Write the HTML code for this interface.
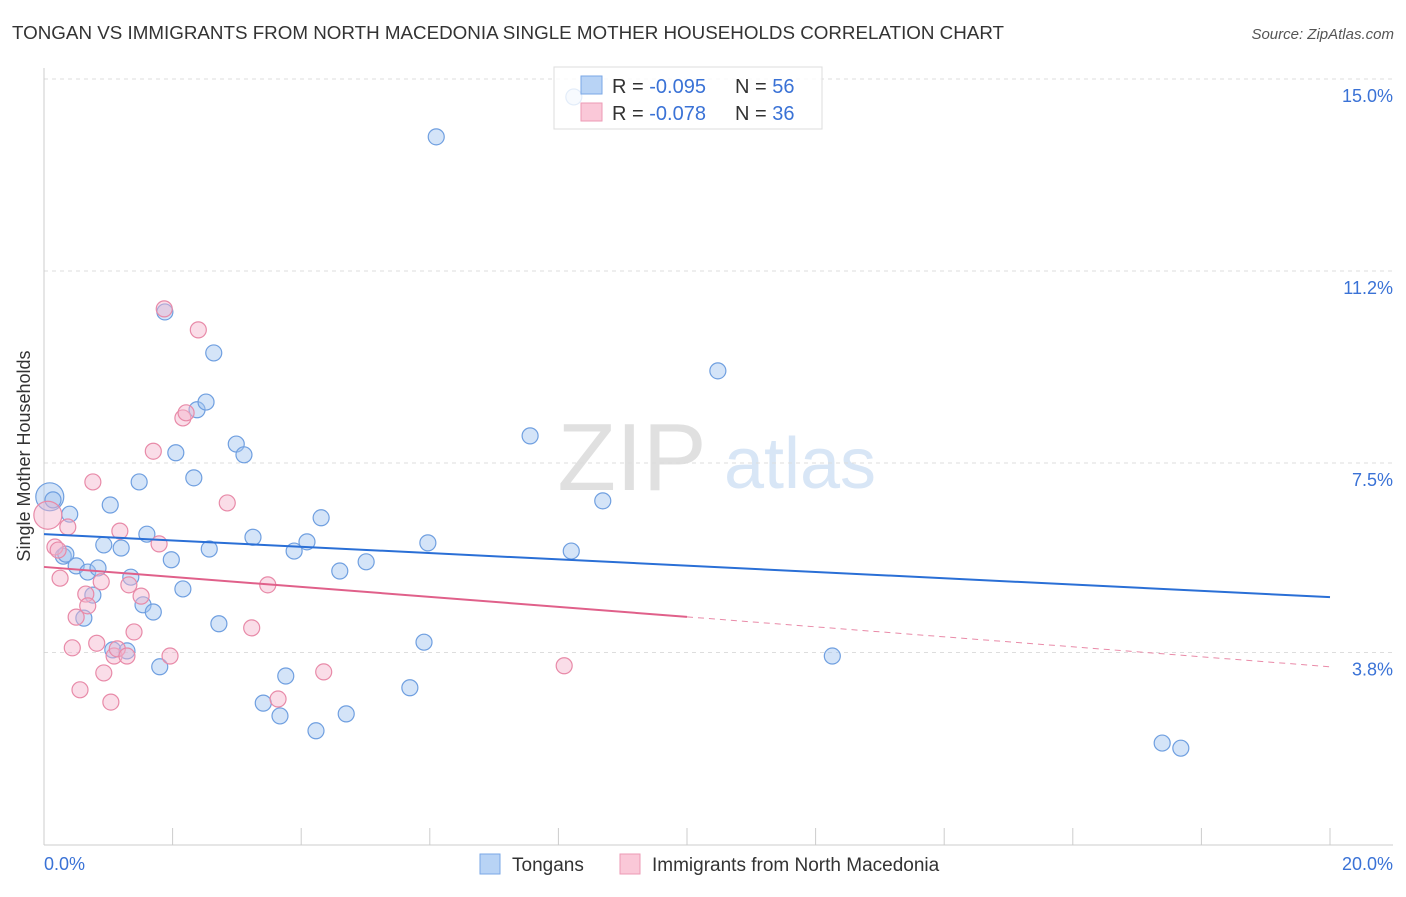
<!DOCTYPE html>
<html><head><meta charset="utf-8"><style>
body{margin:0;background:#fff;font-family:"Liberation Sans",sans-serif;}
svg text{font-family:"Liberation Sans",sans-serif;}
</style></head><body>
<svg id="chart" width="1406" height="892" xmlns="http://www.w3.org/2000/svg">
<text x="12" y="39" font-size="18.8" fill="#333">TONGAN VS IMMIGRANTS FROM NORTH MACEDONIA SINGLE MOTHER HOUSEHOLDS CORRELATION CHART</text>
<text x="1394" y="39" font-size="15" fill="#555" font-style="italic" text-anchor="end">Source: ZipAtlas.com</text>
<text x="632" y="490" font-size="96" fill="#e0e0e0" font-family="Liberation Serif" text-anchor="middle">ZIP</text>
<text x="800" y="488" font-size="72" fill="#d8e6f6" text-anchor="middle">atlas</text>
<g id="grid"></g>
<g id="axes"></g>
<g id="marks"></g>
<text x="30" y="456" font-size="18" fill="#333" text-anchor="middle" transform="rotate(-90 30 456)">Single Mother Households</text>
<g>
<rect x="554" y="67" width="268" height="62" fill="#fff" fill-opacity="0.8" stroke="#ddd"/>
<rect x="581" y="76" width="21" height="18" fill="#b8d3f5" stroke="#7aa7e6"/>
<rect x="581" y="103" width="21" height="18" fill="#fac8d8" stroke="#ec9ab5"/>
<text x="612" y="93" font-size="20" fill="#333">R = <tspan fill="#3a72d6">-0.095</tspan></text>
<text x="735" y="93" font-size="20" fill="#333">N = <tspan fill="#3a72d6">56</tspan></text>
<text x="612" y="120" font-size="20" fill="#333">R = <tspan fill="#3a72d6">-0.078</tspan></text>
<text x="735" y="120" font-size="20" fill="#333">N = <tspan fill="#3a72d6">36</tspan></text>
</g>
<g>
<rect x="480" y="854" width="20" height="20" fill="#b8d3f5" stroke="#7aa7e6"/>
<text x="512" y="871" font-size="19" fill="#333">Tongans</text>
<rect x="620" y="854" width="20" height="20" fill="#fac8d8" stroke="#ec9ab5"/>
<text x="652" y="871" font-size="19" fill="#333">Immigrants from North Macedonia</text>
</g>
</svg>
<script>
const yTicks=[3.8,7.5,11.2,15.0];
const yTickLabels=["3.8%","7.5%","11.2%","15.0%"];
const xTickLabels=["0.0%","20.0%"];
const blueX=[0.09,0.14,0.40,0.30,0.34,0.50,0.68,0.84,0.62,0.76,0.93,1.03,1.20,1.35,1.48,1.54,1.60,1.70,1.80,1.88,1.98,2.05,2.16,2.33,2.38,2.52,2.57,2.64,2.72,2.99,3.11,3.25,3.41,3.67,3.76,3.89,4.09,4.23,4.31,4.60,4.70,5.01,5.69,5.91,5.97,6.10,7.56,8.20,8.24,8.69,10.48,12.26,17.39,17.68,1.07,1.29];
const blueY=[6.84,6.78,6.50,5.68,5.72,5.49,5.37,5.45,4.47,4.92,5.90,6.68,5.84,5.27,7.13,4.73,6.11,4.59,3.52,10.45,5.61,7.70,5.04,7.21,8.54,8.69,5.82,9.65,4.36,7.87,7.66,6.05,2.81,2.56,3.34,5.78,5.96,2.27,6.43,5.39,2.60,5.57,3.11,4.00,5.94,13.87,8.03,5.78,14.65,6.76,9.30,3.73,2.03,1.93,3.85,3.83];
const pinkX=[0.06,0.17,0.25,0.37,0.22,0.44,0.50,0.56,0.65,0.68,0.82,0.89,0.93,1.04,1.09,1.14,1.18,1.29,1.32,1.40,1.51,1.70,1.79,1.96,1.87,2.16,2.21,2.40,2.85,3.23,3.48,3.64,4.35,8.09,0.76];
const pinkY=[6.48,5.86,5.25,6.25,5.80,3.89,4.49,3.07,4.94,4.71,3.98,5.18,3.40,2.83,3.73,3.87,6.17,3.73,5.12,4.20,4.90,7.73,5.92,3.73,10.51,8.38,8.48,10.10,6.72,4.28,5.12,2.89,3.42,3.54,7.13];
const blueTrend=[6.11,4.88];
const pinkTrend=[5.47,3.52];
const NS="http://www.w3.org/2000/svg";
const X=v=>44+v*64.3, Y=v=>847-v*51.2;
function mk(tag,attrs,parent){const e=document.createElementNS(NS,tag);for(const k in attrs)e.setAttribute(k,attrs[k]);document.getElementById(parent).appendChild(e);return e;}
const gridY=[3.8,7.5,11.25,15.0];
gridY.forEach((v,i)=>{
 const l=mk('line',{x1:44,x2:1393,y1:Y(v),y2:Y(v),stroke:'#ddd','stroke-dasharray':'4 4'},'grid');
 
 
 const t=mk('text',{x:1393,y:Y(v)+23,'font-size':18,fill:'#3a72d6','text-anchor':'end'},'axes');
 t.textContent=yTickLabels[i];
 
 
});
let a=mk('line',{x1:44,x2:44,y1:68,y2:845,stroke:'#ccc'},'axes');


a=mk('line',{x1:44,x2:1393,y1:845,y2:845,stroke:'#ccc'},'axes');


for(let i=0;i<=10;i++){
 const t=mk('line',{x1:X(i*2),x2:X(i*2),y1:828,y2:845,stroke:'#ccc'},'axes');
 
 
}
[[0,'start',44],[20,'end',1393]].forEach((d,i)=>{
 const t=mk('text',{x:d[2],y:870,'font-size':18,fill:'#3a72d6','text-anchor':d[1]},'axes');
 t.textContent=xTickLabels[i];
 
 
});
blueX.forEach((x,i)=>{
 const c=mk('circle',{cx:X(x),cy:Y(blueY[i]),r:i==0?14:8,fill:'rgba(160,195,240,0.45)',stroke:'#6f9fe0','stroke-width':1.2},'marks');
 
 
});
pinkX.forEach((x,i)=>{
 const c=mk('circle',{cx:X(x),cy:Y(pinkY[i]),r:i==0?14:8,fill:'rgba(245,180,205,0.45)',stroke:'#e88aa8','stroke-width':1.2},'marks');
 
 
});
let l=mk('line',{x1:X(0),y1:Y(blueTrend[0]),x2:X(20),y2:Y(blueTrend[1]),stroke:'#2a6fd6','stroke-width':2},'marks');


const pm=pinkTrend[0]+(pinkTrend[1]-pinkTrend[0])*0.5;
l=mk('line',{x1:X(0),y1:Y(pinkTrend[0]),x2:X(10),y2:Y(pm),stroke:'#e0608a','stroke-width':2},'marks');


l=mk('line',{x1:X(10),y1:Y(pm),x2:X(20),y2:Y(pinkTrend[1]),stroke:'#e98aa8','stroke-width':1,'stroke-dasharray':'6 5'},'marks');


</script>
</body></html>
